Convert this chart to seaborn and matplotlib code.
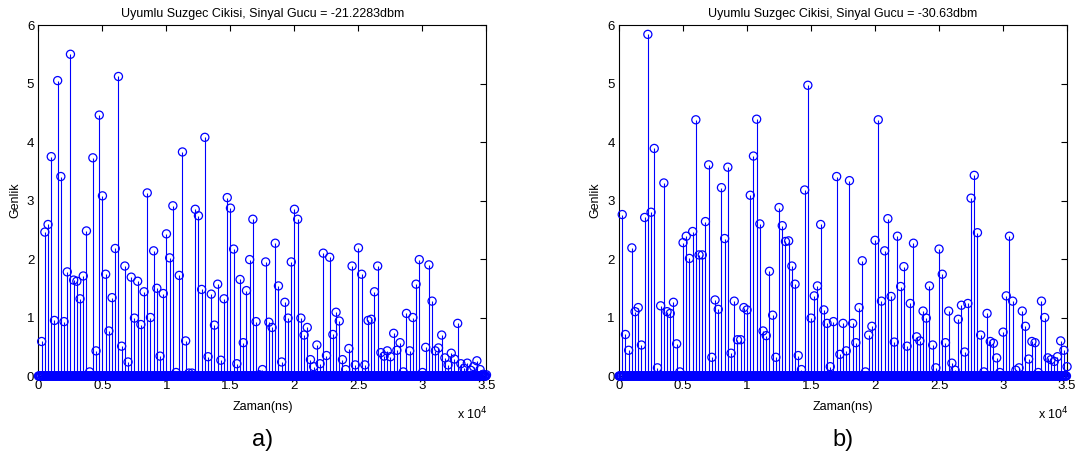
import numpy as np
import pandas as pd
import matplotlib
matplotlib.use('Agg')
import matplotlib.pyplot as plt
import seaborn as sns

sns.set_style('white')
plt.rcParams['font.family'] = ['Liberation Sans', 'DejaVu Sans']
plt.rcParams['text.color'] = 'black'
plt.rcParams['axes.labelcolor'] = 'black'
plt.rcParams['xtick.color'] = 'black'
plt.rcParams['ytick.color'] = 'black'

# pulse spacing and sample grid (ns)
pulse_step = 250
sample_step = 50
t_max = 35000

titles = ['Uyumlu Suzgec Cikisi, Sinyal Gucu = -21.2283dbm',
          'Uyumlu Suzgec Cikisi, Sinyal Gucu = -30.63dbm']
panel_labels = ['a)', 'b)']
xtick_labels = ['0', '0.5', '1', '1.5', '2', '2.5', '3', '3.5']

# peak amplitudes (one per pulse, k = 1..140)
peaks_a = [
    0.59, 2.46, 2.59, 3.75, 0.95, 5.05, 3.41, 0.93, 1.78, 5.50,
    1.64, 1.62, 1.32, 1.71, 2.48, 0.07, 3.73, 0.43, 4.46, 3.08,
    1.74, 0.77, 1.34, 2.18, 5.12, 0.51, 1.88, 0.24, 1.69, 0.99,
    1.62, 0.88, 1.44, 3.13, 1.00, 2.14, 1.50, 0.34, 1.41, 2.43,
    2.02, 2.91, 0.06, 1.72, 3.83, 0.60, 0.05, 0.05,
    2.85, 2.74, 1.48, 4.08, 0.33, 1.40, 0.87, 1.57, 0.27, 1.32,
    3.05, 2.87, 2.17, 0.21, 1.65, 0.57, 1.46, 1.99, 2.68, 0.93,
    0.02, 0.11, 1.95, 0.92, 0.83, 2.27, 1.54, 0.24, 1.26, 0.99,
    1.95, 2.85, 2.68, 0.99, 0.70, 0.83, 0.28, 0.16, 0.53, 0.21,
    2.10, 0.35, 2.03, 0.71, 1.09, 0.94, 0.28,
    0.11, 0.47, 1.88, 0.19, 2.19, 1.74, 0.19, 0.95, 0.97, 1.44,
    1.88, 0.40, 0.34, 0.43, 0.33, 0.73, 0.44, 0.57, 0.07, 1.07,
    0.43, 1.00, 1.57, 1.99, 0.06, 0.49, 1.90, 1.28, 0.43, 0.48,
    0.70, 0.31, 0.19, 0.39, 0.29, 0.90, 0.21, 0.13, 0.22, 0.10,
    0.16, 0.26, 0.11, 0.03, 0.02,
]
peaks_b = [
    2.76, 0.71, 0.44, 2.19, 1.10, 1.17, 0.53, 2.71, 5.84, 2.80,
    3.89, 0.14, 1.20, 3.30, 1.10, 1.07, 1.26, 0.55, 0.07, 2.28,
    2.39, 2.01, 2.47, 4.38, 2.07, 2.07, 2.64, 3.61, 0.32, 1.30,
    1.14, 3.22, 2.35, 3.57, 0.39, 1.28, 0.62, 0.62, 1.17, 1.13,
    3.09, 3.76, 4.39, 2.60, 0.77, 0.69, 1.79,
    1.04, 0.32, 2.88, 2.57, 2.30, 2.31, 1.88, 1.57, 0.35, 0.11,
    3.18, 4.97, 0.99, 1.37, 1.54, 2.59, 1.13, 0.90, 0.16, 0.93,
    3.41, 0.37, 0.90, 0.43, 3.34, 0.90, 0.57, 1.17, 1.97, 0.07,
    0.70, 0.85, 2.32, 4.38, 1.28, 2.14, 2.69, 1.36, 0.58, 2.39,
    1.53, 1.87, 0.51, 1.24, 2.27,
    0.67, 0.60, 1.11, 0.99, 1.54, 0.53, 0.14, 2.17, 1.74, 0.57,
    1.11, 0.22, 0.10, 0.97, 1.21, 0.41, 1.24, 3.04, 3.43, 2.45,
    0.70, 0.07, 1.07, 0.59, 0.56, 0.31, 0.06, 0.75, 1.37, 2.39,
    1.28, 0.10, 0.14, 1.11, 0.85, 0.29, 0.59, 0.57, 0.06, 1.28,
    1.00, 0.31, 0.28, 0.25, 0.33, 0.60, 0.44, 0.16,
]


def build_frame(peaks):
    t = np.arange(0, t_max + 1, sample_step)
    amp = np.zeros(len(t))
    for k, v in enumerate(peaks, start=1):
        amp[t == k * pulse_step] = v
    return pd.DataFrame({'Zaman': t, 'Genlik': amp})


fig = plt.figure(figsize=(10.83, 4.59), dpi=100)
lefts = [0.0355, 0.5716]
axes = [fig.add_axes([l, 0.1808, 0.4137, 0.7647]) for l in lefts]

for ax, peaks, title, lab in zip(axes, [peaks_a, peaks_b], titles, panel_labels):
    df = build_frame(peaks)
    ax.vlines(df['Zaman'], 0, df['Genlik'], color='#0000ff', lw=0.8, zorder=2)
    sns.scatterplot(data=df, x='Zaman', y='Genlik', ax=ax, marker='o',
                    s=34, facecolors='none', edgecolor='#0000ff',
                    linewidth=0.9, clip_on=False, zorder=3, legend=False)

    ax.set_xlim(0, t_max)
    ax.set_ylim(0, 6)
    ax.set_xticks(np.arange(0, t_max + 1, 5000))
    ax.set_xticklabels(xtick_labels)
    ax.set_yticks(range(7))
    ax.tick_params(direction='in', top=True, right=True, labelsize=9.5,
                   length=4, width=0.8, pad=3)
    for sp in ax.spines.values():
        sp.set_color('black')
        sp.set_linewidth(0.8)
    ax.set_title(title, fontsize=9, pad=6)
    ax.set_xlabel('Zaman(ns)', fontsize=9, labelpad=6)
    ax.set_ylabel('Genlik', fontsize=9, labelpad=4)
    ax.text(0.935, -0.085, r'x 10$^4$', transform=ax.transAxes, fontsize=9,
            ha='left', va='top')
    ax.text(0.5, -0.182, lab, transform=ax.transAxes, fontsize=17,
            ha='center', va='center')

fig.savefig('out.png', dpi=100)
